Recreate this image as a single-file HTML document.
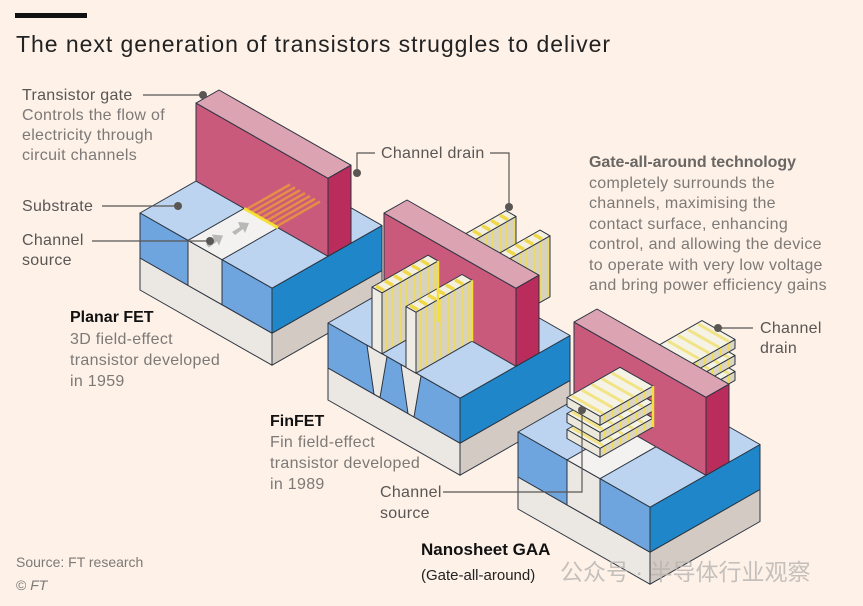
<!DOCTYPE html>
<html><head><meta charset="utf-8">
<style>
html,body{margin:0;padding:0;background:#fdf1e8;}
svg{display:block;}
text{font-family:"Liberation Sans","Noto Sans CJK SC",sans-serif;}
.lb{fill:#5a5654;font-size:16px;letter-spacing:0.3px;}
.ds{fill:#7d7976;font-size:16px;letter-spacing:0.3px;}
.bd{fill:#111;font-size:16px;font-weight:bold;}
</style></head>
<body>
<svg id="s" width="863" height="606" viewBox="0 0 863 606" xmlns="http://www.w3.org/2000/svg">
<rect width="863" height="606" fill="#fdf1e8"/>
<rect x="15" y="13" width="72" height="5" fill="#111"/>
<text x="16" y="52" textLength="594" style="font-size:23px;fill:#222">The next generation of transistors struggles to deliver</text>
<g id="g"></g>
<g stroke="#5a5654" stroke-width="1.2" fill="none">
<polyline points="143,95 203,95"/>
<polyline points="102,206 178,206"/>
<polyline points="92,241 210,241"/>
<polyline points="375,153 357,153 357,173"/>
<polyline points="490,153 509,153 509,207"/>
<polyline points="753,328 718,328"/>
<polyline points="443,492 582,492 582,410"/>
</g>
<g fill="#5a5654">
<circle cx="203" cy="95" r="4"/><circle cx="178" cy="206" r="4"/><circle cx="210" cy="241" r="4"/>
<circle cx="357" cy="173" r="4"/><circle cx="509" cy="207" r="4"/><circle cx="718" cy="328" r="4"/><circle cx="582" cy="410" r="4"/>
</g>
<text class="lb" x="22" y="100">Transistor gate</text>
<text class="ds" x="22" y="120">Controls the flow of</text>
<text class="ds" x="22" y="140">electricity through</text>
<text class="ds" x="22" y="160">circuit channels</text>
<text class="lb" x="22" y="211">Substrate</text>
<text class="lb" x="22" y="245">Channel</text>
<text class="lb" x="22" y="265">source</text>
<text class="lb" x="381" y="158">Channel drain</text>
<text class="lb" x="589" y="167" textLength="207" style="font-weight:bold;fill:#6a6663;letter-spacing:0">Gate-all-around technology</text>
<text class="ds" x="589" y="188">completely surrounds the</text>
<text class="ds" x="589" y="208">channels, maximising the</text>
<text class="ds" x="589" y="229">contact surface, enhancing</text>
<text class="ds" x="589" y="249">control, and allowing the device</text>
<text class="ds" x="589" y="270">to operate with very low voltage</text>
<text class="ds" x="589" y="290">and bring power efficiency gains</text>
<text class="lb" x="760" y="333">Channel</text>
<text class="lb" x="760" y="353">drain</text>
<text class="bd" x="70" y="322">Planar FET</text>
<text class="ds" x="70" y="344">3D field-effect</text>
<text class="ds" x="70" y="365">transistor developed</text>
<text class="ds" x="70" y="386">in 1959</text>
<text class="bd" x="270" y="426">FinFET</text>
<text class="ds" x="270" y="447">Fin field-effect</text>
<text class="ds" x="270" y="468">transistor developed</text>
<text class="ds" x="270" y="489">in 1989</text>
<text class="lb" x="380" y="497">Channel</text>
<text class="lb" x="380" y="518">source</text>
<text class="bd" x="421" y="555" style="font-size:17px">Nanosheet GAA</text>
<text x="421" y="580" style="font-size:15px;fill:#222">(Gate-all-around)</text>
<text x="16" y="567" style="font-size:14px;fill:#7d7976">Source: FT research</text>
<text x="16" y="590" style="font-size:14px;fill:#7d7976">© <tspan font-style="italic">FT</tspan></text>
<text x="560" y="580" style="font-size:23px;fill:#b8b4b0;opacity:0.8">公众号 · 半导体行业观察</text>
</svg>
<script>
var NS="http://www.w3.org/2000/svg",G=document.getElementById("g");
function P(O,u,v,h){return [O[0]+u+v,O[1]+0.57*(u-v)-h];}
function poly(O,pts,fill,sw){var e=document.createElementNS(NS,"polygon");
e.setAttribute("points",pts.map(function(p){var q=P(O,p[0],p[1],p[2]);return q[0].toFixed(1)+","+q[1].toFixed(1);}).join(" "));
e.setAttribute("fill",fill);e.setAttribute("stroke","#2c3440");e.setAttribute("stroke-width",sw==null?1:sw);e.setAttribute("stroke-linejoin","round");G.appendChild(e);}
function line(O,a,b,col,w,op){var e=document.createElementNS(NS,"line");var p=P(O,a[0],a[1],a[2]),q=P(O,b[0],b[1],b[2]);
e.setAttribute("x1",p[0]);e.setAttribute("y1",p[1]);e.setAttribute("x2",q[0]);e.setAttribute("y2",q[1]);
e.setAttribute("stroke",col);e.setAttribute("stroke-width",w);if(op)e.setAttribute("opacity",op);G.appendChild(e);}
function box(O,u0,u1,v0,v1,h0,h1,top,front,right){
 poly(O,[[u0,v0,h0],[u1,v0,h0],[u1,v0,h1],[u0,v0,h1]],front);
 poly(O,[[u1,v0,h0],[u1,v1,h0],[u1,v1,h1],[u1,v0,h1]],right);
 poly(O,[[u0,v0,h1],[u1,v0,h1],[u1,v1,h1],[u0,v1,h1]],top);}
var BL="#bcd4ef",BF="#6fa5de",BR="#1f87c9",SF="#ebe7e2",SR="#d3cbc3",WT="#f3f2f0";
function base(O){
 poly(O,[[132,0,-77],[132,110,-77],[132,110,-45],[132,0,-45]],SR);
 poly(O,[[0,0,-77],[132,0,-77],[132,0,-45],[0,0,-45]],SF);
 poly(O,[[132,0,-45],[132,110,-45],[132,110,0],[132,0,0]],BR);
 poly(O,[[0,0,0],[132,0,0],[132,110,0],[0,110,0]],BL);}
function gate(O){
 poly(O,[[0,56,0],[132,56,0],[132,56,78],[0,56,78]],"#c95a7c");
 poly(O,[[0,56,78],[132,56,78],[132,79,78],[0,79,78]],"#dca3b3");
 poly(O,[[132,56,0],[132,79,0],[132,79,78],[132,56,78]],"#b92c5c");}
function arrow(O,u,v){var a=P(O,u,v,0);var e=document.createElementNS(NS,"polygon");
 var x=a[0],y=a[1];e.setAttribute("points",(x-8)+","+(y+3)+" "+(x)+","+(y-2)+" "+(x-2)+","+(y-7)+" "+(x+9)+","+(y-6)+" "+(x+5)+","+(y+4)+" "+(x+3)+","+(y)+" "+(x-5)+","+(y+6));
 e.setAttribute("fill","#b8b8b8");G.appendChild(e);}
var O1=[140,213];
base(O1);
poly(O1,[[0,0,-45],[48,0,-45],[48,0,0],[0,0,0]],BF);
poly(O1,[[82,0,-45],[132,0,-45],[132,0,0],[82,0,0]],BF);
poly(O1,[[48,0,-45],[82,0,-45],[82,0,0],[48,0,0]],SF);
poly(O1,[[48,0,0],[82,0,0],[82,110,0],[48,110,0]],WT);
arrow(O1,62,12);arrow(O1,64,36);
gate(O1);
for(var u=50;u<=80;u+=5)line(O1,[u,56,0],[u,100,0],"#f2a531",2.5,0.7);
line(O1,[48,56,0],[82,56,0],"#f5e03a",3);
var O2=[328,323];
base(O2);
poly(O2,[[0,0,-45],[132,0,-45],[132,0,0],[0,0,0]],BF);
[[44,54],[78,88]].forEach(function(f){
 poly(O2,[[f[0]-5,0,0],[f[1]+5,0,0],[f[1]-2,0,-45],[f[0]+2,0,-45]],SF);});
function fin(O,u0,u1,v0,v1){box(O,u0,u1,v0,v1,0,61,"#f4f0e0","#efebe5","#d9d2bd");
 for(var v=v0+4;v<v1;v+=7)line(O,[u1,v,1],[u1,v,60],"#eedc5a",1.6);
 for(var v=v0+3;v<v1-2;v+=9)line(O,[u0+1,v,61],[u1-1,v,61],"#f0d84a",3.5);}
fin(O2,44,54,79,134);fin(O2,78,88,79,134);
gate(O2);
fin(O2,44,54,0,56);fin(O2,78,88,0,56);
line(O2,[54,56,0],[54,56,61],"#f5e03a",2.5);line(O2,[88,56,0],[88,56,61],"#f5e03a",2.5);
var O3=[518,432];
base(O3);
poly(O3,[[0,0,-45],[49,0,-45],[49,0,0],[0,0,0]],BF);
poly(O3,[[82,0,-45],[132,0,-45],[132,0,0],[82,0,0]],BF);
poly(O3,[[49,0,-45],[82,0,-45],[82,0,0],[49,0,0]],SF);
poly(O3,[[49,0,0],[82,0,0],[82,110,0],[49,110,0]],WT);
function sheets(O,v0,v1){[18,34,50].forEach(function(h){
 box(O,46,79,v0,v1,h,h+9,"#f5f2e6","#ece8dc","#dcd5bf");
 for(var v=v0+5;v<v1;v+=8)line(O,[79,v,h+1],[79,v,h+8],"#eedc5a",2);
 for(var v=v0+4;v<v1-2;v+=10)line(O,[47,v,h+9],[78,v,h+9],"#f2e070",3,0.8);});}
sheets(O3,79,138);
gate(O3);
sheets(O3,3,56);
line(O3,[79,56,18],[79,56,59],"#f5e03a",2.5);
</script>
</body></html>
